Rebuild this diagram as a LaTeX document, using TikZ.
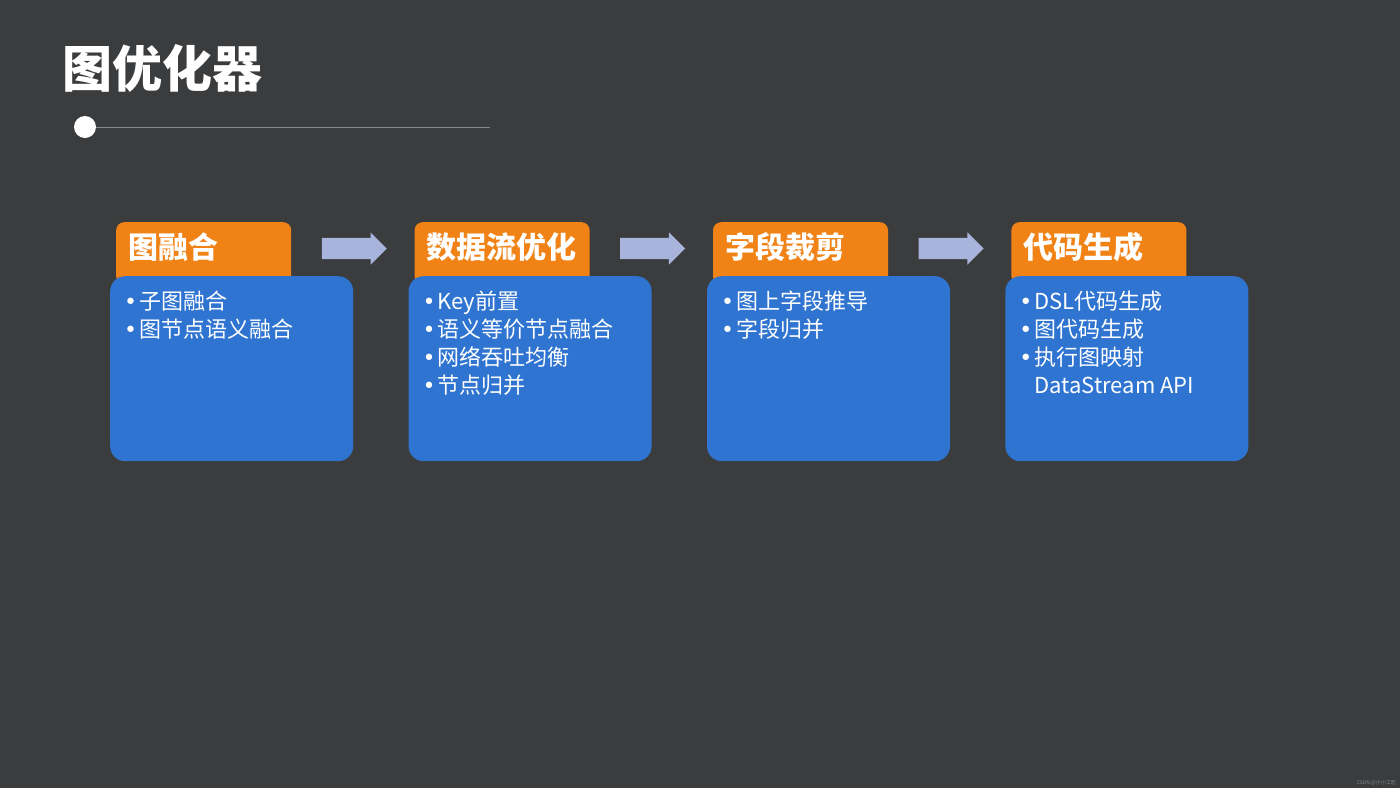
\documentclass[tikz,border=0pt]{standalone}
\usepackage{fontspec}
\setmainfont{Noto Sans CJK SC}
\newfontfamily\bulletfont{DejaVu Sans}
\usepackage{tikz}
\usetikzlibrary{positioning,calc,shapes.arrows}
\definecolor{slide}{RGB}{59,60,62}
\definecolor{tabcol}{RGB}{240,130,22}
\definecolor{bodycol}{RGB}{47,116,208}
\definecolor{arrowcol}{RGB}{168,180,220}
\definecolor{rulecol}{RGB}{135,135,138}
\newcommand{\itm}{\makebox[15pt][l]{\bulletfont •}}
\tikzset{
  tab/.style={fill=tabcol,rounded corners=8pt,minimum width=175pt,minimum height=62pt,
    text width=151pt,inner xsep=12pt,inner ysep=0pt,align=left,text=white,
    text height=25pt,text depth=15pt,font=\fontsize{30pt}{34pt}\selectfont\bfseries},
  body/.style={fill=bodycol,rounded corners=15pt,minimum width=243pt,minimum height=185pt,
    inner sep=0pt,anchor=north west},
  items/.style={text=white,align=left,inner sep=0pt,anchor=north west,
    font=\fontsize{22pt}{28pt}\selectfont},
  flowarrow/.style={single arrow,fill=arrowcol,inner sep=10.5pt,minimum height=65pt,
    single arrow head extend=5.5pt,single arrow tip angle=90}
}
\begin{document}
\begin{tikzpicture}[x=1pt,y=-1pt]
\useasboundingbox[fill=slide] (0,0) rectangle (1400,788);
% title
\node[anchor=west,inner sep=0pt,text=white,font=\fontsize{50pt}{56pt}\selectfont\bfseries]
  (title) at (62,68.5) {图优化器};
\node[circle,fill=white,inner sep=0pt,minimum size=22pt] (dot) at (85,127) {};
\coordinate (ruleend) at (490,127);
\draw[rulecol,line width=0.8pt] (dot) -- (ruleend);
% tabs
\node[tab,anchor=north west] (tab1) at (116,222) {图融合};
\node[tab,right=123pt of tab1] (tab2) {数据流优化};
\node[tab,right=123pt of tab2] (tab3) {字段裁剪};
\node[tab,right=123pt of tab3] (tab4) {代码生成};
% bodies
\node[body] (body1) at ([shift={(-6,54)}]tab1.north west) {};
\node[body] (body2) at ([shift={(-6,54)}]tab2.north west) {};
\node[body] (body3) at ([shift={(-6,54)}]tab3.north west) {};
\node[body] (body4) at ([shift={(-6,54)}]tab4.north west) {};
\node[items] (list1) at ([shift={(14,15)}]body1.north west)
  {\itm 子图融合\\ \itm 图节点语义融合};
\node[items] (list2) at ([shift={(14,15)}]body2.north west)
  {\itm Key前置\\ \itm 语义等价节点融合\\ \itm 网络吞吐均衡\\ \itm 节点归并};
\node[items] (list3) at ([shift={(14,15)}]body3.north west)
  {\itm 图上字段推导\\ \itm 字段归并};
\node[items] (list4) at ([shift={(14,15)}]body4.north west)
  {\itm DSL代码生成\\ \itm 图代码生成\\ \itm 执行图映射\\ \hspace*{15pt}DataStream API};
% arrows
\node[flowarrow] (arr12) at ($(tab1.north east)!0.5!(tab2.north west)+(-4,26.5)$) {};
\node[flowarrow] (arr23) at ($(tab2.north east)!0.5!(tab3.north west)+(-4,26.5)$) {};
\node[flowarrow] (arr34) at ($(tab3.north east)!0.5!(tab4.north west)+(-4,26.5)$) {};
\node[anchor=east,inner sep=0pt,text=rulecol,font=\fontsize{5pt}{6pt}\selectfont]
  (mark) at (1396,783) {CSDN @小小工匠};
\end{tikzpicture}
\end{document}
